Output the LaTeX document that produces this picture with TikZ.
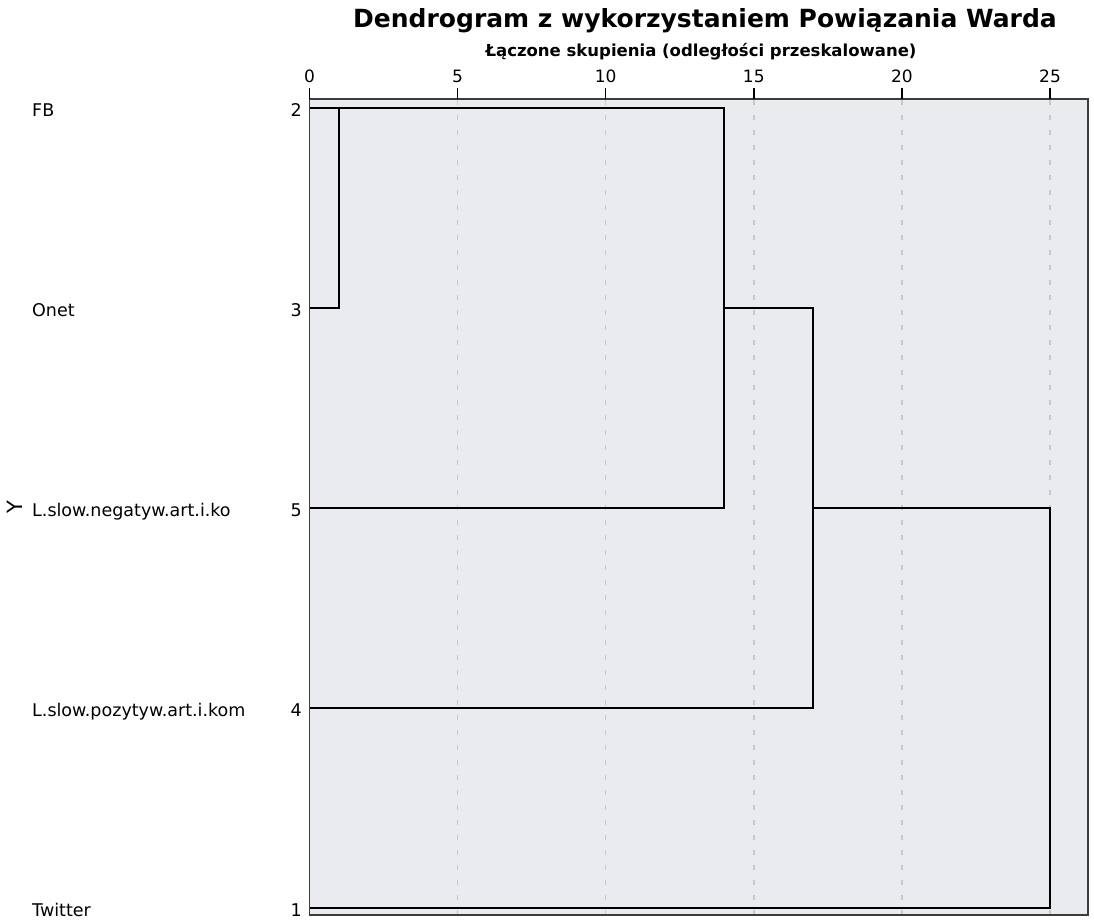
\documentclass[tikz,border=0pt]{standalone}
\usepackage{fontspec}
\setmainfont{DejaVu Sans}
\usetikzlibrary{positioning}

\definecolor{plotbg}{RGB}{234,235,238}
\definecolor{gridgray}{RGB}{200,200,204}
\definecolor{framegray}{RGB}{60,60,60}

\begin{document}
\begin{tikzpicture}[x=1pt,y=1pt]
\tikzstyle{every node}+=[inner sep=0pt]
\tikzstyle{tree}=[black, line width=1.8pt]
\tikzstyle{leaf}=[font=\fontsize{17.5}{20}\selectfont]
\tikzstyle{tick}=[font=\fontsize{17}{19}\selectfont]
\useasboundingbox (0,0) rectangle (1094,-919);
% plot area
\fill [plotbg] (309.5,-99) rectangle (1088,-915);
\foreach \d in {5,10,...,25}
  \draw [gridgray, line width=1.4pt, dash pattern=on 5pt off 10pt] ({309.5+29.62*\d},-100) -- ({309.5+29.62*\d},-915);
\draw [framegray, line width=1.4pt] (309.5,-99) rectangle (1088,-915);
% axis
\foreach \d in {0,5,...,25} {
  \draw [black, line width=1.4pt] ({309.5+29.62*\d},-88) -- ({309.5+29.62*\d},-99);
  \node [tick, anchor=base] (t\d) at ({309.5+29.62*\d},-82) {\d};
}
\node [anchor=base, font=\bfseries\fontsize{25}{28}\selectfont] (title) at (705,-27) {Dendrogram z wykorzystaniem Powiązania Warda};
\node [anchor=base, font=\bfseries\fontsize{16.5}{18}\selectfont] (subtitle) at (701,-56) {Łączone skupienia (odległości przeskalowane)};
% leaves
\foreach \lab/\num/\y/\name in {FB/2/108/fb, Onet/3/308/onet, L.slow.negatyw.art.i.ko/5/508/neg, L.slow.pozytyw.art.i.kom/4/708/poz, Twitter/1/908/tw} {
  \node [leaf, anchor=base west] (lab-\name) at (32,-\y-8.5) {\lab};
  \node [leaf, anchor=base east] (num-\name) at (302,-\y-8.5) {\num};
  \coordinate (leaf-\name) at (309.5,-\y);
}
\node [font=\fontsize{21}{24}\selectfont, rotate=90] (ymark) at (15,-507) {Y};
% joins
\coordinate (j1top) at (339.1,-108);
\coordinate (j1bot) at (339.1,-308);
\coordinate (j14top) at (724.2,-108);
\coordinate (j14mid) at (724.2,-308);
\coordinate (j14bot) at (724.2,-508);
\coordinate (j17top) at (813,-308);
\coordinate (j17mid) at (813,-508);
\coordinate (j17bot) at (813,-708);
\coordinate (j25top) at (1050,-508);
\coordinate (j25bot) at (1050,-908);
\draw [tree] (leaf-onet) -- (j1bot) -- (j1top);
\draw [tree] (leaf-fb) -- (j14top) -- (j14bot) -- (leaf-neg);
\draw [tree] (j14mid) -- (j17top) -- (j17bot) -- (leaf-poz);
\draw [tree] (j17mid) -- (j25top) -- (j25bot) -- (leaf-tw);
\end{tikzpicture}
\end{document}
